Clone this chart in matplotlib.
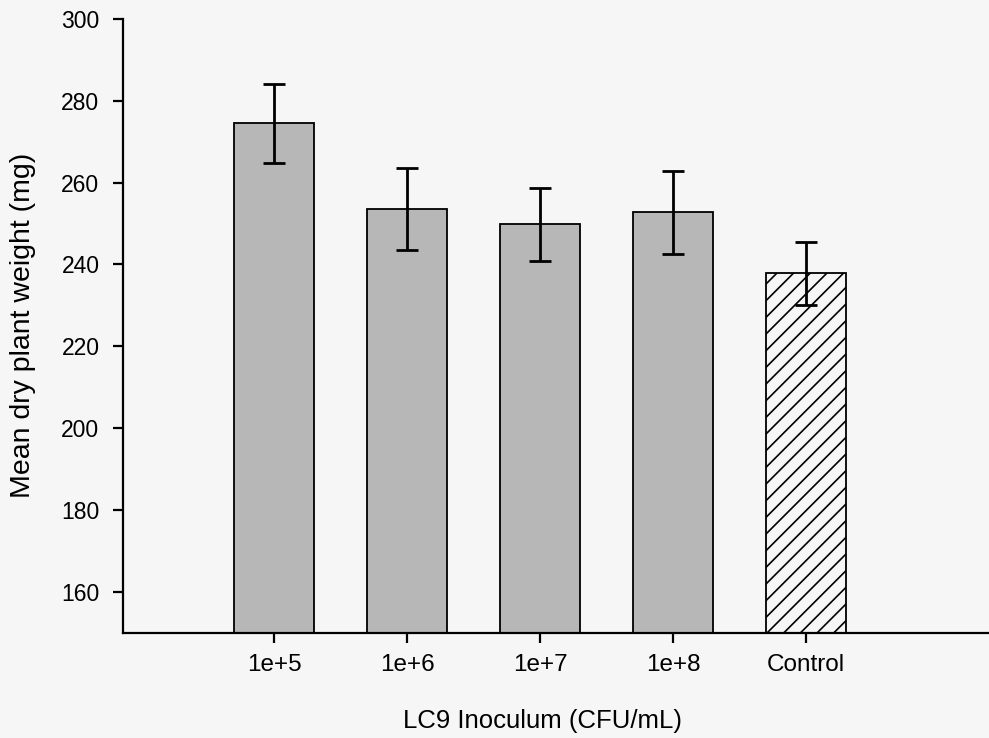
import numpy as np
import matplotlib
matplotlib.use("Agg")
import matplotlib.pyplot as plt

plt.rcParams['font.family'] = ['Liberation Sans', 'DejaVu Sans']
plt.rcParams['hatch.linewidth'] = 1.2

# Mean dry plant weight per LC9 inoculum level
groups = ['1e+5', '1e+6', '1e+7', '1e+8', 'Control']
weights = [274.5, 253.5, 249.8, 252.7, 237.8]
errors = [9.7, 10.0, 9.0, 10.2, 7.6]

fig = plt.figure(figsize=(9.89, 7.38), dpi=100, facecolor='#f6f6f6')
ax = fig.add_axes([0.1244, 0.1427, 0.8756, 0.8316])
ax.set_facecolor('none')

x = np.arange(len(groups))
colors = ['#b7b7b7'] * 4 + ['none']
hatches = [None] * 4 + ['//']
for xi, w, c, h in zip(x, weights, colors, hatches):
    ax.bar(xi, w - 150, bottom=150, width=0.6, color=c, hatch=h,
           edgecolor='black', linewidth=1.3, zorder=2)

ax.errorbar(x, weights, yerr=errors, fmt='none', ecolor='black',
            elinewidth=2.0, capsize=8, capthick=2.0, zorder=3)

ax.set_ylim(150, 300)
ax.set_xlim(-1.138, 5.378)
ax.set_yticks(np.arange(160, 301, 20))
ax.set_xticks(x)
ax.set_xticklabels(groups)

for side in ['top', 'right']:
    ax.spines[side].set_visible(False)
for side in ['left', 'bottom']:
    ax.spines[side].set_linewidth(1.6)

ax.tick_params(axis='both', direction='out', length=7, width=1.6,
               colors='black')
ax.tick_params(axis='y', pad=10, labelsize=16.5)
ax.tick_params(axis='x', pad=8, labelsize=17.5)

ax.set_ylabel('Mean dry plant weight (mg)', fontsize=20.5)
ax.set_xlabel('LC9 Inoculum (CFU/mL)', fontsize=18.5)
ax.yaxis.set_label_coords(-0.1, 0.5)
ax.xaxis.set_label_coords(0.4844, -0.125)

fig.savefig('out.png', dpi=100, facecolor=fig.get_facecolor())
